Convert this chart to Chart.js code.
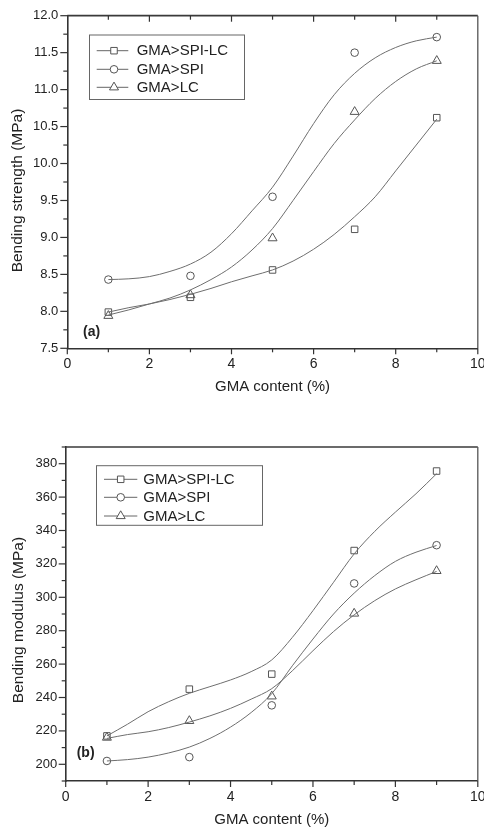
<!DOCTYPE html>
<html><head><meta charset="utf-8">
<script src="https://cdn.jsdelivr.net/npm/chart.js@4.4.1/dist/chart.umd.min.js"></script>
<style>
html,body{margin:0;padding:0;background:#fff;}
#wrapA{position:absolute;left:0;top:0;width:484px;height:415px;}
#wrapB{position:absolute;left:0;top:415px;width:484px;height:416px;}
canvas{display:block;}
</style></head><body>
<div id="wrapA"><canvas id="chartA" width="484" height="415"></canvas></div>
<div id="wrapB"><canvas id="chartB" width="484" height="416"></canvas></div>
<script>
// ---------------- data ----------------
const seriesNames = ['GMA>SPI-LC', 'GMA>SPI', 'GMA>LC'];
const gmaContent = [1, 3, 5, 7, 9];

// (a) bending strength, MPa (measured points)
const strengthSPILC = [7.99, 8.19, 8.56, 9.11, 10.62];
const strengthSPI   = [8.43, 8.48, 9.55, 11.50, 11.71];
const strengthLC    = [7.94, 8.22, 8.99, 10.70, 11.39];

// (b) bending modulus, MPa (measured points)
const modulusSPILC = [217, 245, 254, 328, 375.6];
const modulusSPI   = [202, 204.3, 235.3, 308.3, 331.2];
const modulusLC    = [216, 226, 240.7, 290.3, 315.8];

// fitted curves
const fitX = [1, 1.5, 2, 2.5, 3, 3.5, 4, 4.5, 5, 5.5, 6, 6.5, 7, 7.5, 8, 8.5, 9];
const strengthFitSPILC = [7.99, 8.05, 8.10, 8.16, 8.23, 8.31, 8.40, 8.48, 8.56, 8.68, 8.84, 9.04, 9.28, 9.55, 9.90, 10.25, 10.60];
const strengthFitSPI   = [8.43, 8.44, 8.47, 8.54, 8.64, 8.80, 9.05, 9.36, 9.68, 10.10, 10.54, 10.93, 11.22, 11.43, 11.57, 11.66, 11.71];
const strengthFitLC    = [7.95, 8.02, 8.10, 8.18, 8.29, 8.43, 8.60, 8.83, 9.12, 9.50, 9.89, 10.27, 10.59, 10.88, 11.11, 11.28, 11.39];
const modulusFitSPILC  = [217, 224, 231.5, 237.5, 242.5, 246.5, 250.5, 255.5, 262.5, 276, 292, 309, 326, 339.5, 351, 362, 374];
const modulusFitSPI    = [202, 202.8, 204.3, 206.8, 210.3, 215.5, 222.3, 231, 242.3, 259, 275, 290, 302.5, 313, 321.5, 327, 331];
const modulusFitLC     = [215.5, 217.8, 219.5, 222, 225.3, 229, 233.5, 239, 245.3, 256, 268, 279.5, 289.5, 298, 305, 310.5, 315.5];

// tick labels
const xTickLabels = [0, 2, 4, 6, 8, 10];
const strengthTickLabels = [7.5, 8.0, 8.5, 9.0, 9.5, 10.0, 10.5, 11.0, 11.5, 12.0];
const modulusTickLabels = [200, 220, 240, 260, 280, 300, 320, 340, 360, 380];

// ---------------- styling / helpers ----------------
Chart.defaults.font.family = '"Liberation Sans", Arial, Helvetica, sans-serif';
Chart.defaults.color = '#222';

const markerStyles = ['rect', 'circle', 'triangle'];
const markerRadius = [4.6, 3.8, 5.2];
const TEXT = '#222';
const FONT = '"Liberation Sans", Arial, sans-serif';

function pts(xs, ys) { return xs.map((x, i) => ({x: x, y: ys[i]})); }

function buildDatasets(pointSets, fitSets) {
  const ds = [];
  fitSets.forEach((arr, k) => ds.push({
    label: seriesNames[k] + ' fit', isFit: true,
    data: pts(fitX, arr), showLine: true, pointRadius: 0, pointHoverRadius: 0,
    borderColor: '#6e6e6e', borderWidth: 1, cubicInterpolationMode: 'monotone', fill: false
  }));
  pointSets.forEach((arr, k) => ds.push({
    label: seriesNames[k], isFit: false,
    data: pts(gmaContent, arr), showLine: false,
    pointStyle: markerStyles[k], pointRadius: markerRadius[k], pointHoverRadius: markerRadius[k],
    pointBorderColor: '#555', pointBackgroundColor: 'rgba(255,255,255,0)', pointBorderWidth: 1,
    borderColor: '#555', backgroundColor: 'rgba(255,255,255,0)'
  }));
  return ds;
}

function decorPlugin(cfg) {
  return {
    id: 'decor' + cfg.name,
    afterDatasetsDraw(chart) {
      const ctx = chart.ctx, xs = chart.scales.x, ys = chart.scales.y, a = chart.chartArea;
      ctx.save();
      // frame: top + right
      ctx.strokeStyle = '#3a3a3a';
      ctx.lineWidth = cfg.topWidth;
      ctx.beginPath(); ctx.moveTo(a.left, a.top); ctx.lineTo(a.right, a.top); ctx.stroke();
      ctx.lineWidth = 1.3; ctx.strokeStyle = '#555';
      ctx.beginPath(); ctx.moveTo(a.right, a.top); ctx.lineTo(a.right, a.bottom); ctx.stroke();

      ctx.strokeStyle = '#333'; ctx.lineWidth = 1.2;
      // y ticks (outward, left)
      const nY = Math.round((ys.max - ys.min) / cfg.yMinor);
      for (let i = 0; i <= nY; i++) {
        const v = ys.min + i * cfg.yMinor;
        const r = v / cfg.yMajor;
        const major = Math.abs(r - Math.round(r)) < 1e-6;
        const py = ys.getPixelForValue(v);
        ctx.beginPath(); ctx.moveTo(a.left, py); ctx.lineTo(a.left - (major ? 7 : 4), py); ctx.stroke();
      }
      // x ticks (outward, bottom) and optional inward top ticks
      for (let v = xs.min; v <= xs.max + 1e-9; v += 1) {
        const major = (Math.round(v) % 2 === 0);
        const px = xs.getPixelForValue(v);
        ctx.beginPath(); ctx.moveTo(px, a.bottom); ctx.lineTo(px, a.bottom + (major ? 6 : 4)); ctx.stroke();
        if (cfg.topTicks && v > xs.min && v < xs.max) {
          ctx.beginPath(); ctx.moveTo(px, a.top); ctx.lineTo(px, a.top + (major ? 6 : 4)); ctx.stroke();
        }
      }

      // y axis title
      ctx.save();
      ctx.translate(cfg.yTitleX, cfg.yTitleY);
      ctx.rotate(-Math.PI / 2);
      ctx.fillStyle = TEXT;
      ctx.font = '15.5px ' + FONT;
      ctx.textAlign = 'center'; ctx.textBaseline = 'middle';
      ctx.fillText(cfg.yTitle, 0, 0);
      ctx.restore();

      // legend box
      const L = cfg.legend;
      ctx.fillStyle = '#fff';
      ctx.fillRect(L.x1, L.y1, L.x2 - L.x1, L.y2 - L.y1);
      ctx.strokeStyle = '#666'; ctx.lineWidth = 1;
      ctx.strokeRect(L.x1, L.y1, L.x2 - L.x1, L.y2 - L.y1);
      const items = chart.data.datasets.filter(d => !d.isFit);
      items.forEach((d, k) => {
        const y = L.rows[k];
        ctx.strokeStyle = '#666'; ctx.lineWidth = 1;
        ctx.beginPath(); ctx.moveTo(L.lx1, y); ctx.lineTo(L.lx2, y); ctx.stroke();
        ctx.fillStyle = '#fff'; ctx.strokeStyle = '#555'; ctx.lineWidth = 1;
        Chart.helpers.drawPoint(ctx, {pointStyle: d.pointStyle, radius: d.pointRadius, rotation: 0, borderWidth: 1}, L.mx, y);
        ctx.fillStyle = TEXT;
        ctx.font = '15px ' + FONT;
        ctx.textAlign = 'left'; ctx.textBaseline = 'middle';
        ctx.fillText(d.label, L.tx, y + 0.5);
      });

      // panel label
      ctx.fillStyle = TEXT;
      ctx.font = 'bold 14px ' + FONT;
      ctx.textAlign = 'left'; ctx.textBaseline = 'middle';
      ctx.fillText(cfg.panelLabel, cfg.panelX, cfg.panelY);
      ctx.restore();
    }
  };
}

function makeChart(id, o) {
  return new Chart(document.getElementById(id), {
    type: 'line',
    data: {datasets: buildDatasets(o.points, o.fits)},
    options: {
      responsive: false, animation: false, devicePixelRatio: 1,
      events: [],
      layout: {padding: o.padding},
      plugins: {legend: {display: false}, tooltip: {enabled: false}},
      scales: {
        x: {
          type: 'linear', min: 0, max: 10,
          afterBuildTicks: s => { s.ticks = xTickLabels.map(v => ({value: v})); },
          afterFit: s => { s.height = o.xHeight; s.paddingLeft = 0; s.paddingRight = 0; },
          grid: {display: false, drawTicks: false},
          border: {display: true, color: '#333', width: 1.6},
          ticks: {font: {size: 14}, color: TEXT, padding: 7.3, maxRotation: 0, autoSkip: false},
          title: {display: true, text: 'GMA content (%)', font: {size: 15}, color: TEXT,
                  padding: {top: 0, bottom: o.xTitlePad}}
        },
        y: {
          type: 'linear', min: o.yMin, max: o.yMax,
          afterBuildTicks: s => { s.ticks = o.yTicks.map(v => ({value: v})); },
          afterFit: s => { s.width = o.yWidth; s.paddingTop = 0; s.paddingBottom = 0; },
          grid: {display: false, drawTicks: false},
          border: {display: true, color: '#333', width: 1.6},
          ticks: {font: {size: 13}, color: TEXT, padding: o.yTickPad, autoSkip: false, callback: o.yFmt},
          title: {display: false}
        }
      }
    },
    plugins: [decorPlugin(o.decor)]
  });
}

makeChart('chartA', {
  points: [strengthSPILC, strengthSPI, strengthLC],
  fits: [strengthFitSPILC, strengthFitSPI, strengthFitLC],
  padding: {top: 15.7, right: 5, bottom: 0, left: 0},
  xHeight: 66.7, xTitlePad: 19, yWidth: 67.3, yTickPad: 9,
  yMin: 7.5, yMax: 12, yTicks: strengthTickLabels, yFmt: v => Number(v).toFixed(1),
  decor: {name: 'A', topTicks: true, topWidth: 1.8, yMinor: 0.25, yMajor: 0.5,
    yTitle: 'Bending strength (MPa)', yTitleX: 18, yTitleY: 190.5,
    panelLabel: '(a)', panelX: 83, panelY: 332,
    legend: {x1: 89.5, y1: 35, x2: 244.5, y2: 99.5, rows: [50.7, 69.3, 87.3], lx1: 96.7, lx2: 128.3, mx: 114, tx: 136.7}}
});

makeChart('chartB', {
  points: [modulusSPILC, modulusSPI, modulusLC],
  fits: [modulusFitSPILC, modulusFitSPI, modulusFitLC],
  padding: {top: 32, right: 5.5, bottom: 0, left: 0},
  xHeight: 50, xTitlePad: 2.3, yWidth: 65.7, yTickPad: 8.4,
  yMin: 190, yMax: 390, yTicks: modulusTickLabels, yFmt: v => String(v),
  decor: {name: 'B', topTicks: false, topWidth: 1.5, yMinor: 10, yMajor: 20,
    yTitle: 'Bending modulus (MPa)', yTitleX: 19, yTitleY: 205,
    panelLabel: '(b)', panelX: 76.7, panelY: 338.5,
    legend: {x1: 96.5, y1: 50.7, x2: 262.5, y2: 110.3, rows: [64.3, 82.3, 101], lx1: 104, lx2: 137.3, mx: 120.7, tx: 143.3}}
});
</script>
</body></html>
